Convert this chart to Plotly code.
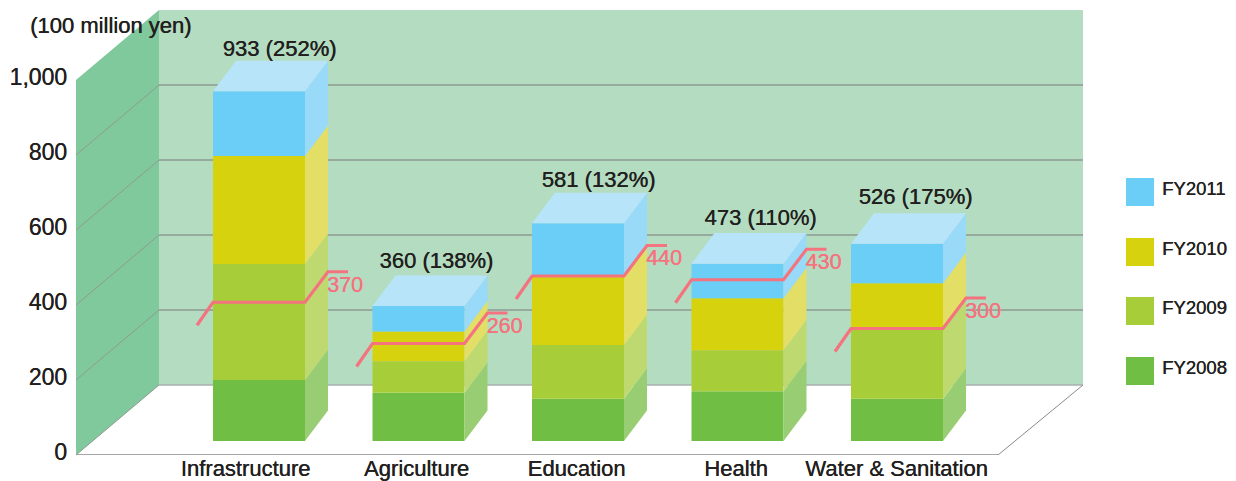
import plotly.graph_objects as go

# ---------- data ----------
categories = ["Infrastructure", "Agriculture", "Education", "Health", "Water & Sanitation"]
fy2008 = [163, 129, 113, 133, 113]
fy2009 = [309, 84, 143, 109, 188]
fy2010 = [288, 79, 187, 139, 120]
fy2011 = [173, 68, 138, 92, 105]
totals = [933, 360, 581, 473, 526]
percent = [252, 138, 132, 110, 175]
target = [370, 260, 440, 430, 300]
y_ticks = [0, 200, 400, 600, 800, 1000]

# ---------- styling ----------
series = [
    ("FY2008", fy2008, "#70BF44", "#99CD73"),
    ("FY2009", fy2009, "#A7CE38", "#BED970"),
    ("FY2010", fy2010, "#D6D20E", "#E2DE66"),
    ("FY2011", fy2011, "#6ACEF6", "#99DAF8"),
]
TOP_FACE = "#B7E4F9"
WALL_BACK = "#B3DCC1"
WALL_LEFT = "#80C99C"
GRID = "#8E9A92"
LINE = "#F4737E"
TEXT = "#231F20"
FONT = "Liberation Sans"
HEAVY = "0.4px 0 0 #231F20"
HEAVY_LINE = "0.4px 0 0 #F4737E"

W, H = 1236, 481
L_PX, R_PX, T_PX, B_PX = 76, 1083, 10, 455     # plot rectangle
PX_PER_VAL = 0.375
CAT_PX = 159.5
CAT0_PX = 259


def dxu(px):
    return px / CAT_PX


def dyu(px):
    return px / PX_PER_VAL


x_min = (L_PX - CAT0_PX) / CAT_PX
x_max = (R_PX - CAT0_PX) / CAT_PX
y_max = (B_PX - T_PX) / PX_PER_VAL

BAR_W = dxu(92)
BAR_BASE = dyu(14)
BAR_DX, BAR_DV = dxu(23), dyu(30.5)
WALL_DX, WALL_DV = dxu(83), dyu(70)
FLOOR_R = (998 - CAT0_PX) / CAT_PX

fig = go.Figure()
xs = list(range(len(categories)))

# running stack
bottoms = [BAR_BASE] * len(categories)
for name, vals, front, side in series:
    fig.add_trace(go.Bar(x=xs, y=vals, base=bottoms, width=BAR_W, name=name,
                         marker=dict(color=front, line=dict(width=0)),
                         showlegend=False, hoverinfo="skip"))
    sx, sy = [], []
    for i, v in enumerate(vals):
        r = i + BAR_W / 2
        b = bottoms[i]
        t = b + v
        sx += [r, r + BAR_DX, r + BAR_DX, r, r, None]
        sy += [b, b + BAR_DV, t + BAR_DV, t, b, None]
    fig.add_trace(go.Scatter(x=sx, y=sy, mode="lines", fill="toself", fillcolor=side,
                             line=dict(width=0), showlegend=False, hoverinfo="skip"))
    bottoms = [b + v for b, v in zip(bottoms, vals)]

# top faces
tx, ty = [], []
for i, t in enumerate(bottoms):
    l, r = i - BAR_W / 2, i + BAR_W / 2
    tx += [l, l + BAR_DX, r + BAR_DX, r, l, None]
    ty += [t, t + BAR_DV, t + BAR_DV, t, t, None]
fig.add_trace(go.Scatter(x=tx, y=ty, mode="lines", fill="toself", fillcolor=TOP_FACE,
                         line=dict(width=0), showlegend=False, hoverinfo="skip"))

# target line
lx, ly, lab_x, lab_y = [], [], [], []
for i, v in enumerate(target):
    l, r = i - BAR_W / 2, i + BAR_W / 2
    y = BAR_BASE + v
    lx += [l - dxu(16), l, r, r + BAR_DX, r + BAR_DX + dxu(20), None]
    ly += [y - dyu(23), y, y, y + BAR_DV, y + BAR_DV, None]
    lab_x.append(r + BAR_DX - dxu(1))
    lab_y.append(y + BAR_DV - dyu(14.5))
fig.add_trace(go.Scatter(x=lx, y=ly, mode="lines", line=dict(color=LINE, width=3.2),
                         showlegend=False, hoverinfo="skip", name="Target"))
fig.add_trace(go.Scatter(x=lab_x, y=lab_y, mode="text", text=[str(v) for v in target],
                         textposition="middle right", cliponaxis=False,
                         textfont=dict(family=FONT, size=21.5, color=LINE, shadow=HEAVY_LINE),
                         showlegend=False, hoverinfo="skip"))

# total labels
total_dx_px = [20.5, 17.8, 20.5, 23, 18.5]
total_gap_px = [41, 44, 42, 43.7, 45]
fig.add_trace(go.Scatter(x=[i + dxu(d) for i, d in zip(xs, total_dx_px)],
                         y=[b + dyu(g) for b, g in zip(bottoms, total_gap_px)],
                         mode="text",
                         text=[f"{t} ({p}%)" for t, p in zip(totals, percent)],
                         textposition="middle center", cliponaxis=False,
                         textfont=dict(family=FONT, size=22, color=TEXT, shadow=HEAVY),
                         showlegend=False, hoverinfo="skip"))

# walls, grid and floor: drawn on the data axes, beneath the traces
top = y_ticks[-1]
wall_x = x_min + WALL_DX
shapes = [
    dict(type="path", layer="below", xref="x", yref="y", line_width=0, fillcolor=WALL_BACK,
         path=f"M{wall_x},{WALL_DV} H{x_max} V{top + WALL_DV} H{wall_x} Z"),
    dict(type="path", layer="below", xref="x", yref="y", line_width=0, fillcolor=WALL_LEFT,
         path=f"M{x_min},0 L{wall_x},{WALL_DV} V{top + WALL_DV} L{x_min},{top} Z"),
]
for v in y_ticks[:-1]:
    c = "#A9B1AC" if v == 0 else GRID
    w = 1.6
    shapes.append(dict(type="line", layer="below", xref="x", yref="y", x0=wall_x, x1=x_max,
                       y0=v + WALL_DV, y1=v + WALL_DV, line=dict(color=c, width=w)))
    shapes.append(dict(type="line", layer="below", xref="x", yref="y", x0=x_min, x1=wall_x,
                       y0=v, y1=v + WALL_DV, line=dict(color=GRID, width=1)))
shapes.append(dict(type="line", layer="below", xref="x", yref="y", x0=x_min, x1=FLOOR_R,
                   y0=0, y1=0, line=dict(color="#8A8A8A", width=1.4)))
shapes.append(dict(type="line", layer="below", xref="x", yref="y", x0=FLOOR_R, x1=x_max,
                   y0=0, y1=WALL_DV, line=dict(color="#8A8A8A", width=1)))


# legend drawn by hand: the swatches are larger than the library's own
def xp(px):
    return (px - L_PX) / (R_PX - L_PX)


def yp(px):
    return (B_PX - px) / (B_PX - T_PX)


annotations = [dict(text="(100 million yen)", xref="paper", yref="paper", x=xp(28), y=yp(26),
                    xanchor="left", yanchor="middle", showarrow=False,
                    font=dict(family=FONT, size=22, color=TEXT, shadow=HEAVY))]
legend_top = [357, 297, 238, 178]
for (name, _, front, _s), ty_ in zip(series, legend_top):
    shapes.append(dict(type="rect", xref="paper", yref="paper", x0=xp(1126), x1=xp(1154),
                       y0=yp(ty_ + 28), y1=yp(ty_), fillcolor=front, line_width=0))
    annotations.append(dict(text=name, xref="paper", yref="paper", x=xp(1160), y=yp(ty_ + 10),
                            xanchor="left", yanchor="middle", showarrow=False,
                            font=dict(family=FONT, size=18.5, color=TEXT, shadow=HEAVY)))

label_shift_px = [-13.5, -2, -1.5, -1.5, -0.5]
fig.update_layout(
    width=W, height=H, autosize=False, barmode="overlay",
    paper_bgcolor="white", plot_bgcolor="rgba(0,0,0,0)",
    margin=dict(l=L_PX, r=W - R_PX, t=T_PX, b=H - B_PX, pad=0, autoexpand=False),
    shapes=shapes, annotations=annotations, showlegend=False,
    xaxis=dict(range=[x_min, x_max], showgrid=False, zeroline=False, showline=False,
               automargin=False,
               tickmode="array", tickvals=[i + dxu(s) for i, s in zip(xs, label_shift_px)],
               ticktext=categories, ticks="", ticklabelstandoff=-2,
               tickfont=dict(family=FONT, size=22, color=TEXT, shadow=HEAVY)),
    yaxis=dict(range=[0, y_max], showgrid=False, zeroline=False, showline=False,
               automargin=False,
               tickmode="array", tickvals=y_ticks, ticktext=[f"{v:,}" for v in y_ticks],
               ticks="", ticklabelstandoff=8, ticklabelshift=-3,
               tickfont=dict(family=FONT, size=23, color=TEXT, shadow=HEAVY)),
    font=dict(family=FONT),
)
fig.write_html("out.html", config=dict(displayModeBar=False),
               post_script="document.body.style.margin='0';document.documentElement.style.overflow='hidden';")
